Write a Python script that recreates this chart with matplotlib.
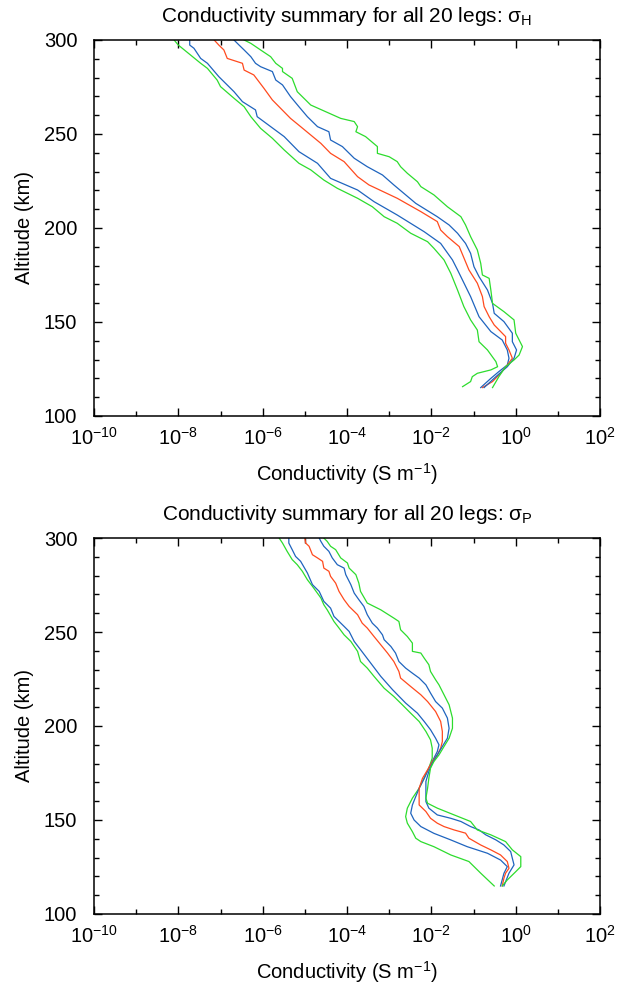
import matplotlib
matplotlib.use("Agg")
import matplotlib.pyplot as plt
import numpy as np
from matplotlib.ticker import FixedLocator, MultipleLocator, LogFormatterSciNotation, NullFormatter

plt.rcParams['font.family'] = ['Liberation Sans', 'DejaVu Sans']
plt.rcParams['mathtext.fontset'] = 'custom'
plt.rcParams['mathtext.rm'] = 'Liberation Sans'
plt.rcParams['mathtext.it'] = 'Liberation Sans:italic'
plt.rcParams['mathtext.bf'] = 'Liberation Sans:bold'
plt.rcParams['axes.unicode_minus'] = False

GREEN = "#2ddc2d"
BLUE = "#1f64be"
RED = "#ff4a1e"

# Hall conductivity, values are log10(S/m)
hall_lo2_alt = [300, 297.3, 292.0, 287.6, 284.9, 278.7, 275.2, 269.0, 264.5, 259.2, 253.0, 247.7, 241.5,
                234.4, 230.9, 225.5, 221.1, 215.8, 211.3, 206.0, 202.5, 197.2, 192.7, 189.2, 183.0, 175.9,
                167.0, 158.2, 151.1, 145.7, 139.5, 135.1, 128.9, 126.2, 124.5, 122.7, 120.9, 118.3, 115.6]
hall_lo2_log = [-8.10, -8.00, -7.71, -7.47, -7.31, -7.08, -7.00, -6.68, -6.44, -6.28, -6.05, -5.77, -5.49,
                -5.14, -4.86, -4.55, -4.23, -3.75, -3.40, -3.12, -2.81, -2.49, -2.09, -1.94, -1.70, -1.54,
                -1.38, -1.23, -1.07, -0.91, -0.87, -0.67, -0.47, -0.43, -0.59, -0.91, -1.03, -1.07, -1.26]

hall_lo1_alt = [300, 297.3, 295.6, 290.2, 287.6, 280.5, 272.5, 267.2, 262.8, 259.2, 253.9, 248.6, 240.6,
                234.4, 226.4, 220.2, 214.0, 206.9, 198.0, 191.8, 183.0, 177.7, 163.5, 152.8, 144.9, 140.4,
                135.1, 130.7, 127.1, 123.6, 120.0, 115.1]
hall_lo1_log = [-7.73, -7.73, -7.63, -7.47, -7.31, -7.04, -6.68, -6.48, -6.17, -6.13, -5.81, -5.49, -5.14,
                -4.70, -4.39, -3.75, -3.36, -2.81, -2.17, -1.78, -1.50, -1.38, -1.07, -0.87, -0.59, -0.32,
                -0.20, -0.16, -0.20, -0.40, -0.59, -0.83]

hall_mid_alt = [300, 297.3, 294.7, 290.2, 287.6, 284.0, 281.4, 274.3, 268.1, 258.3, 253.9, 245.0, 239.7,
                235.3, 227.3, 222.9, 215.8, 208.7, 203.4, 198.9, 195.4, 190.1, 177.7, 170.6, 163.5, 158.2,
                152.8, 148.4, 142.2, 138.7, 135.1, 130.7, 127.1, 122.7, 118.3, 115.1]
hall_mid_log = [-7.15, -7.04, -6.92, -6.84, -6.48, -6.44, -6.21, -5.97, -5.77, -5.34, -5.10, -4.62, -4.39,
                -4.07, -3.75, -3.48, -2.81, -2.25, -1.86, -1.78, -1.62, -1.34, -1.11, -0.91, -0.79, -0.75,
                -0.63, -0.51, -0.24, -0.24, -0.16, -0.08, -0.20, -0.36, -0.55, -0.79]

hall_hi1_alt = [300, 297.3, 294.7, 291.1, 287.6, 285.8, 283.2, 278.7, 276.1, 269.9, 264.5, 259.2, 253.9,
                251.2, 246.8, 243.3, 237.1, 232.6, 228.2, 222.9, 213.1, 206.0, 201.6, 197.2, 191.8, 186.5,
                179.4, 174.1, 167.0, 159.9, 154.6, 150.2, 144.0, 139.5, 135.1, 130.7, 126.2, 120.9, 115.1]
hall_hi1_log = [-6.68, -6.56, -6.44, -6.28, -6.17, -6.05, -5.77, -5.69, -5.53, -5.34, -5.14, -4.94, -4.70,
                -4.43, -4.39, -4.11, -3.83, -3.52, -3.16, -2.89, -2.37, -1.86, -1.58, -1.38, -1.19, -1.07,
                -0.99, -0.87, -0.67, -0.55, -0.51, -0.28, -0.08, -0.08, 0.02, -0.04, -0.20, -0.47, -0.75]

hall_hi2_alt = [300, 298.2, 294.7, 291.1, 287.6, 284.9, 283.2, 279.6, 272.5, 265.4, 258.3, 256.6, 253.9,
                251.2, 248.6, 243.3, 239.7, 237.9, 235.3, 232.6, 229.1, 224.6, 222.0, 217.6, 211.3, 206.0,
                201.6, 195.4, 188.3, 181.2, 175.0, 173.2, 167.0, 159.9, 155.5, 151.1, 144.0, 136.9, 132.4,
                129.8, 126.2, 120.9, 115.1]
hall_hi2_log = [-6.44, -6.28, -6.05, -5.81, -5.69, -5.53, -5.53, -5.30, -5.18, -4.86, -4.15, -3.83, -3.75,
                -3.79, -3.56, -3.28, -3.28, -3.00, -2.81, -2.73, -2.57, -2.33, -2.25, -1.94, -1.62, -1.30,
                -1.19, -1.07, -0.91, -0.83, -0.79, -0.63, -0.59, -0.55, -0.28, -0.04, 0.00, 0.16, 0.08,
                -0.04, -0.24, -0.40, -0.55]

# Pedersen conductivity, values are log10(S/m)
ped_lo2_alt = [300, 297.3, 292.9, 288.5, 285.8, 282.3, 277.8, 274.3, 268.1, 264.5, 261.8, 255.6, 252.1,
               248.5, 245.0, 239.7, 234.3, 230.8, 226.4, 220.1, 215.7, 211.3, 206.8, 202.4, 197.1, 192.6,
               188.2, 182.9, 177.6, 172.2, 166.9, 161.6, 156.3, 151.8, 148.3, 143.8, 140.3, 138.5, 135.8,
               131.4, 127.9, 121.7, 114.9]
ped_lo2_log = [-5.61, -5.53, -5.42, -5.30, -5.18, -5.06, -4.94, -4.82, -4.62, -4.55, -4.47, -4.31, -4.19,
               -4.07, -3.91, -3.75, -3.68, -3.52, -3.36, -3.12, -2.89, -2.69, -2.49, -2.29, -2.13, -2.02,
               -1.98, -1.98, -2.06, -2.17, -2.29, -2.45, -2.57, -2.61, -2.57, -2.45, -2.37, -2.25, -1.94,
               -1.54, -1.11, -0.83, -0.51]

ped_lo1_alt = [300, 297.3, 293.8, 290.2, 287.6, 281.4, 275.2, 271.6, 266.3, 262.7, 258.3, 253.0, 250.3,
               245.0, 240.6, 233.5, 226.4, 219.3, 212.2, 206.8, 202.4, 198.0, 193.5, 190.0, 186.4, 182.9,
               177.6, 172.2, 166.9, 162.5, 158.0, 153.6, 150.0, 146.5, 142.9, 139.4, 135.8, 132.3, 128.7,
               125.2, 121.6, 114.9]
ped_lo1_log = [-5.38, -5.38, -5.30, -5.22, -5.10, -4.94, -4.82, -4.66, -4.55, -4.39, -4.31, -4.07, -3.95,
               -3.83, -3.68, -3.44, -3.20, -2.92, -2.61, -2.33, -2.17, -2.02, -1.90, -1.82, -1.86, -1.94,
               -2.06, -2.17, -2.29, -2.37, -2.45, -2.49, -2.41, -2.25, -1.94, -1.54, -1.15, -0.67, -0.36,
               -0.20, -0.28, -0.36]

ped_mid_alt = [300, 297.3, 295.6, 291.1, 289.4, 287.6, 284.0, 282.3, 279.6, 276.0, 271.6, 267.2, 263.6,
               259.2, 254.7, 252.1, 247.6, 243.2, 238.8, 234.3, 229.0, 225.5, 221.0, 216.6, 213.0, 207.7,
               202.4, 197.1, 191.7, 188.2, 184.6, 181.1, 176.7, 172.2, 166.9, 161.6, 158.0, 154.5, 150.9,
               148.3, 146.5, 144.7, 143.0, 140.3, 136.7, 134.1, 131.4, 127.9, 124.3, 121.7, 119.0, 114.9]
ped_mid_log = [-5.00, -4.98, -4.90, -4.82, -4.70, -4.58, -4.55, -4.43, -4.39, -4.27, -4.19, -4.07, -3.95,
               -3.75, -3.64, -3.52, -3.36, -3.20, -3.04, -2.89, -2.77, -2.73, -2.49, -2.25, -2.09, -1.90,
               -1.78, -1.74, -1.74, -1.78, -1.86, -1.98, -2.09, -2.21, -2.29, -2.29, -2.29, -2.13, -2.02,
               -1.86, -1.70, -1.46, -1.19, -1.11, -0.83, -0.59, -0.36, -0.20, -0.16, -0.24, -0.28, -0.32]

ped_hi1_alt = [300, 298.2, 295.6, 292.9, 289.4, 285.8, 284.0, 280.5, 275.2, 270.7, 267.2, 263.6, 259.2,
               254.7, 252.1, 248.5, 245.9, 242.3, 238.8, 234.3, 230.8, 228.1, 225.5, 221.9, 217.5, 213.0,
               209.5, 204.2, 198.8, 193.5, 189.1, 184.6, 180.2, 175.8, 170.5, 165.1, 159.8, 156.3, 152.7,
               150.9, 149.2, 146.5, 144.7, 142.1, 139.4, 136.7, 133.2, 129.6, 126.1, 121.7, 114.9]
ped_hi1_log = [-4.66, -4.62, -4.55, -4.43, -4.35, -4.23, -4.07, -4.03, -3.91, -3.83, -3.72, -3.60, -3.52,
               -3.40, -3.28, -3.16, -3.12, -2.96, -2.85, -2.77, -2.61, -2.45, -2.29, -2.13, -2.02, -1.90,
               -1.74, -1.62, -1.58, -1.62, -1.74, -1.86, -1.98, -2.06, -2.13, -2.13, -2.13, -2.06, -1.86,
               -1.54, -1.30, -1.07, -0.87, -0.71, -0.47, -0.28, -0.12, -0.08, -0.04, -0.16, -0.28]

ped_hi2_alt = [300, 298.2, 295.6, 293.8, 289.4, 286.7, 284.0, 280.5, 276.0, 271.6, 265.4, 261.8, 257.4,
               255.6, 251.2, 247.6, 244.1, 239.7, 238.8, 236.1, 232.6, 229.0, 224.6, 221.9, 216.6, 211.3,
               204.2, 198.8, 193.5, 189.1, 184.6, 181.1, 177.6, 172.2, 166.9, 161.6, 158.9, 156.3, 152.7,
               149.2, 144.7, 142.1, 138.5, 134.1, 130.5, 125.2, 122.5, 118.1, 114.9]
ped_hi2_log = [-4.55, -4.47, -4.39, -4.27, -4.15, -3.99, -3.95, -3.79, -3.72, -3.68, -3.52, -3.20, -2.89,
               -2.77, -2.73, -2.57, -2.45, -2.45, -2.25, -2.17, -2.06, -2.02, -1.90, -1.82, -1.70, -1.58,
               -1.50, -1.50, -1.58, -1.70, -1.82, -1.94, -2.02, -2.06, -2.09, -2.13, -2.09, -1.86, -1.46,
               -1.07, -0.91, -0.59, -0.24, -0.08, 0.12, 0.12, 0.00, -0.20, -0.32]

panels = [
    ("H", [(hall_lo2_alt, hall_lo2_log, GREEN), (hall_lo1_alt, hall_lo1_log, BLUE),
           (hall_mid_alt, hall_mid_log, RED), (hall_hi1_alt, hall_hi1_log, BLUE),
           (hall_hi2_alt, hall_hi2_log, GREEN)]),
    ("P", [(ped_lo2_alt, ped_lo2_log, GREEN), (ped_lo1_alt, ped_lo1_log, BLUE),
           (ped_mid_alt, ped_mid_log, RED), (ped_hi1_alt, ped_hi1_log, BLUE),
           (ped_hi2_alt, ped_hi2_log, GREEN)]),
]

fig = plt.figure(figsize=(6.35, 9.85), dpi=100)
ax_rects = [[0.148, 0.5777, 0.797, 0.3817], [0.148, 0.0721, 0.797, 0.3817]]

for rect, (sub, curves) in zip(ax_rects, panels):
    ax = fig.add_axes(rect)
    for alt, logs, color in curves:
        ax.plot(10 ** np.array(logs), alt, color=color, lw=0.9)
    ax.set_xscale("log")
    ax.set_xlim(1e-10, 1e2)
    ax.set_ylim(100, 300)
    ax.xaxis.set_major_locator(FixedLocator(10.0 ** np.arange(-10, 3, 2)))
    ax.xaxis.set_major_formatter(LogFormatterSciNotation())
    ax.xaxis.set_minor_locator(FixedLocator(10.0 ** np.arange(-9, 2, 2)))
    ax.xaxis.set_minor_formatter(NullFormatter())
    ax.yaxis.set_major_locator(MultipleLocator(50))
    ax.yaxis.set_minor_locator(MultipleLocator(10))
    ax.tick_params(which="both", direction="in", top=True, right=True, width=1.0, labelsize=14.5)
    ax.tick_params(which="major", length=6)
    ax.tick_params(which="minor", length=3.5)
    ax.tick_params(axis="x", which="major", pad=8)
    ax.tick_params(axis="y", which="major", pad=12)
    for sp in ax.spines.values():
        sp.set_linewidth(1.1)
    ax.set_xlabel("Conductivity (S m$^{-1}$)", fontsize=14.5)
    ax.xaxis.set_label_coords(0.5, -0.121)
    ax.set_ylabel("Altitude (km)", fontsize=14.5)
    ax.yaxis.set_label_coords(-0.118, 0.5)
    ax.set_title("Conductivity summary for all 20 legs: σ$_{\\mathrm{" + sub + "}}$", fontsize=15, pad=13)

fig.savefig("out.png", dpi=100)
